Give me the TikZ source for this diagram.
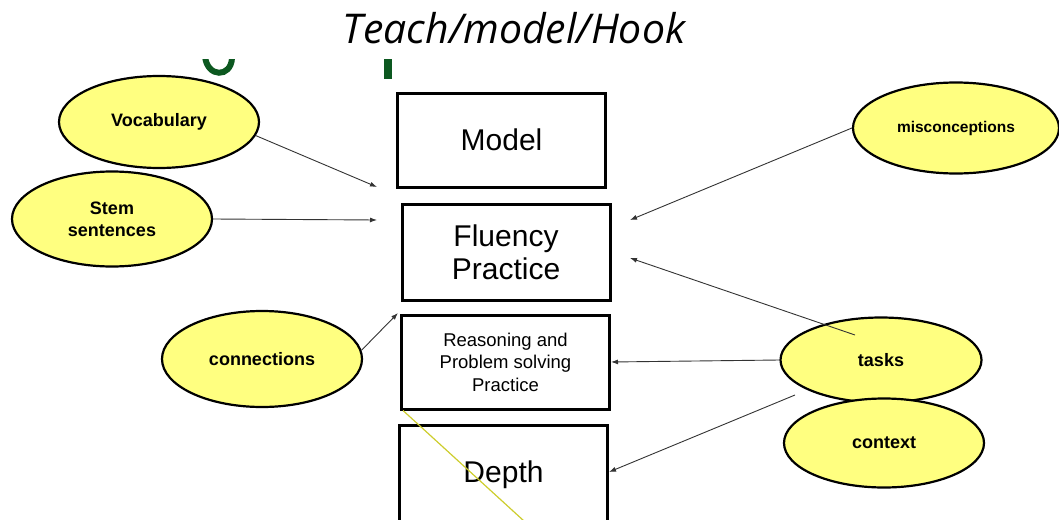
\documentclass[tikz,border=0pt]{standalone}
\usepackage{fontspec}
\setmainfont{Liberation Sans}
\newfontfamily\titlefont{Open Sans}
\usetikzlibrary{arrows.meta,calc,shapes.geometric}
\definecolor{bubblefill}{RGB}{255,255,128}
\definecolor{ghostgreen}{RGB}{12,88,32}
\definecolor{strayline}{RGB}{205,205,45}
\tikzset{
  bubble/.style={ellipse,draw=black,line width=2.2pt,fill=bubblefill,
    minimum width=200pt,minimum height=92pt,inner sep=0pt,
    font=\fontsize{18}{22}\selectfont\bfseries,align=center},
  stage/.style={rectangle,draw=black,line width=3pt,minimum width=208pt,
    minimum height=94pt,inner sep=0pt,font=\fontsize{30}{33}\selectfont,align=center},
  link/.style={-{Latex[length=7pt,width=5pt]},line width=0.9pt,black!80}
}

\begin{document}
\begin{tikzpicture}[x=1pt,y=-1pt]
  \useasboundingbox (0,0) rectangle (1059,519);
  \clip (0,0) rectangle (1059,519);
  % title and the cut-off green letters under it
  \node[font=\titlefont\itshape\fontsize{41}{44}\selectfont] (title) at (514,28) {Teach/model/Hook};
  \begin{scope}
    \clip (0,60) rectangle (1059,100);
    \draw[ghostgreen,line width=6pt] (205,56) .. controls (207,78) and (231,78) .. (232,58);
    \fill[ghostgreen] (384,56) rectangle (392,79);
  \end{scope}
  % stages
  \node[stage] (model) at (501.5,140) {Model};
  \node[stage,minimum height=96pt] (fluency) at (506,252) {Fluency\\Practice};
  \node[stage,font=\fontsize{18.5}{22.5}\selectfont] (reason) at (505.5,362) {Reasoning and\\Problem solving\\Practice};
  \node[stage,minimum height=100pt] (depth) at (503.5,475) {Depth};
  % bubbles
  \node[bubble] (vocab) at (159,122) {Vocabulary};
  \node[bubble,minimum height=95pt] (stem) at (112,219) {Stem\\sentences};
  \node[bubble,minimum width=206pt,minimum height=91pt,
    font=\fontsize{15.5}{18}\selectfont\bfseries] (misc) at (956,128) {misconceptions};
  \node[bubble,minimum height=96pt] (conn) at (262,359) {connections};
  \node[bubble,minimum width=201pt,minimum height=85pt] (tasks) at (881,360) {tasks};
  \node[bubble,minimum height=89pt] (context) at (884,443) {context};
  % loose arrow ends
  \coordinate (vtip) at (377,187);
  \coordinate (stip) at (377,220);
  \coordinate (mtip) at (630,220);
  \coordinate (ttip) at (630,258);
  \coordinate (ctip) at (398,313);
  \coordinate (tstart) at (855,335);
  \coordinate (dstart) at (795,395);
  \coordinate (dtip) at (609,472);
  \draw[link] (vocab.-8) -- (vtip);
  \draw[link] (stem.east) -- (stip);
  \draw[link] (misc.west) -- (mtip);
  \draw[link] (tstart) -- (ttip);
  \draw[link] (conn.5) -- (ctip);
  \draw[link] (tasks.west) -- (reason.east);
  \draw[link] (dstart) -- (dtip);
  % stray line
  \draw[strayline,line width=1.2pt] ($(reason.south west)+(3,0)$) -- (524,521);
\end{tikzpicture}
\end{document}
